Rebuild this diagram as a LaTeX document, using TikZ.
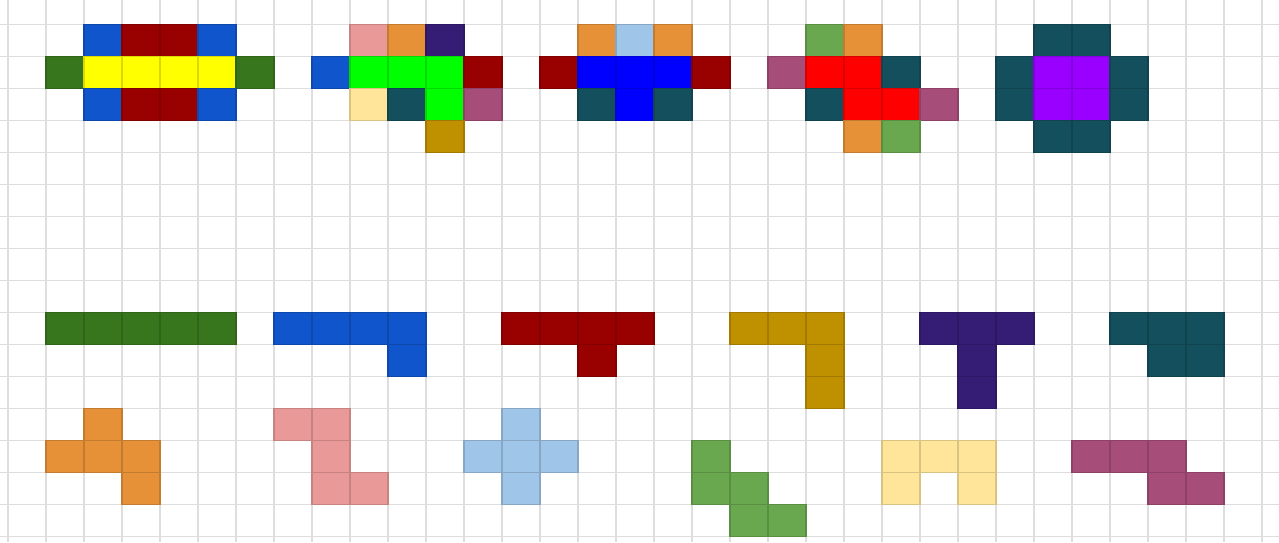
\documentclass[tikz,border=0pt]{standalone}
\definecolor{cYellow}{HTML}{FFFF00}
\definecolor{cDarkRed}{HTML}{990000}
\definecolor{cBlue}{HTML}{1155CC}
\definecolor{cDarkGreen}{HTML}{38761D}
\definecolor{cGreen}{HTML}{00FF00}
\definecolor{cPink}{HTML}{EA9999}
\definecolor{cOrange}{HTML}{E69138}
\definecolor{cDarkPurple}{HTML}{351C75}
\definecolor{cLightYellow}{HTML}{FFE599}
\definecolor{cTeal}{HTML}{134F5C}
\definecolor{cMauve}{HTML}{A64D79}
\definecolor{cGold}{HTML}{BF9000}
\definecolor{cLightBlue}{HTML}{9FC5E8}
\definecolor{cPureBlue}{HTML}{0000FF}
\definecolor{cRed}{HTML}{FF0000}
\definecolor{cLightGreen}{HTML}{6AA84F}
\definecolor{cPurple}{HTML}{9900FF}

\begin{document}
\begin{tikzpicture}[
  x=0.76cm, y=-0.64cm,
  gridline/.style={draw=black!13, line width=1.1pt},
  sq/.style={fill=#1, draw=#1!85!black, line width=0.6pt}]
  \useasboundingbox (-0.2105,-0.7656) rectangle (33.447,16.172);
  % sheet grid
  \foreach \i in {0,...,33} \draw[gridline] (\i,-0.7656) -- (\i,16.172);
  \foreach \j in {0,...,16} \draw[gridline] (-0.2105,\j) -- (33.447,\j);

  % top figures
  \foreach \c/\r/\col in {
      2/0/cBlue, 3/0/cDarkRed, 4/0/cDarkRed, 5/0/cBlue,
      1/1/cDarkGreen, 2/1/cYellow, 3/1/cYellow, 4/1/cYellow, 5/1/cYellow, 6/1/cDarkGreen,
      2/2/cBlue, 3/2/cDarkRed, 4/2/cDarkRed, 5/2/cBlue,
      9/0/cPink, 10/0/cOrange, 11/0/cDarkPurple,
      8/1/cBlue, 9/1/cGreen, 10/1/cGreen, 11/1/cGreen, 12/1/cDarkRed,
      9/2/cLightYellow, 10/2/cTeal, 11/2/cGreen, 12/2/cMauve,
      11/3/cGold,
      15/0/cOrange, 16/0/cLightBlue, 17/0/cOrange,
      14/1/cDarkRed, 15/1/cPureBlue, 16/1/cPureBlue, 17/1/cPureBlue, 18/1/cDarkRed,
      15/2/cTeal, 16/2/cPureBlue, 17/2/cTeal,
      21/0/cLightGreen, 22/0/cOrange,
      20/1/cMauve, 21/1/cRed, 22/1/cRed, 23/1/cTeal,
      21/2/cTeal, 22/2/cRed, 23/2/cRed, 24/2/cMauve,
      22/3/cOrange, 23/3/cLightGreen,
      27/0/cTeal, 28/0/cTeal,
      26/1/cTeal, 27/1/cPurple, 28/1/cPurple, 29/1/cTeal,
      26/2/cTeal, 27/2/cPurple, 28/2/cPurple, 29/2/cTeal,
      27/3/cTeal, 28/3/cTeal}
    \path[sq=\col] (\c,\r) rectangle ++(1,1);

  % loose pieces
  \foreach \c/\r/\col in {
      1/9/cDarkGreen, 2/9/cDarkGreen, 3/9/cDarkGreen, 4/9/cDarkGreen, 5/9/cDarkGreen,
      7/9/cBlue, 8/9/cBlue, 9/9/cBlue, 10/9/cBlue, 10/10/cBlue,
      13/9/cDarkRed, 14/9/cDarkRed, 15/9/cDarkRed, 16/9/cDarkRed, 15/10/cDarkRed,
      19/9/cGold, 20/9/cGold, 21/9/cGold, 21/10/cGold, 21/11/cGold,
      24/9/cDarkPurple, 25/9/cDarkPurple, 26/9/cDarkPurple, 25/10/cDarkPurple, 25/11/cDarkPurple,
      29/9/cTeal, 30/9/cTeal, 31/9/cTeal, 30/10/cTeal, 31/10/cTeal,
      2/12/cOrange, 1/13/cOrange, 2/13/cOrange, 3/13/cOrange, 3/14/cOrange,
      7/12/cPink, 8/12/cPink, 8/13/cPink, 8/14/cPink, 9/14/cPink,
      13/12/cLightBlue, 12/13/cLightBlue, 13/13/cLightBlue, 14/13/cLightBlue, 13/14/cLightBlue,
      18/13/cLightGreen, 18/14/cLightGreen, 19/14/cLightGreen, 19/15/cLightGreen, 20/15/cLightGreen,
      23/13/cLightYellow, 24/13/cLightYellow, 25/13/cLightYellow, 23/14/cLightYellow, 25/14/cLightYellow,
      28/13/cMauve, 29/13/cMauve, 30/13/cMauve, 30/14/cMauve, 31/14/cMauve}
    \path[sq=\col] (\c,\r) rectangle ++(1,1);
\end{tikzpicture}
\end{document}
